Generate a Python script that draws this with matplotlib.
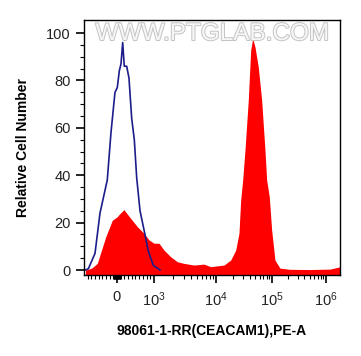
import numpy as np
import matplotlib
matplotlib.use('Agg')
import matplotlib.pyplot as plt
import matplotlib.patheffects as pe

plt.rcParams['font.family'] = ['Liberation Sans', 'DejaVu Sans']
plt.rcParams['mathtext.fontset'] = 'custom'
plt.rcParams['mathtext.rm'] = 'Liberation Sans'

# isotype control (blue outline)
blue_x = [-873, -783, -600, -464, -265, -164, -55, 8, 62, 108, 154, 197, 262,
          324, 397, 468, 532, 622, 730, 846, 981, 1250]
blue_y = [0, 0.5, 7, 24, 38, 58, 75, 77, 84, 87, 96, 86, 86,
          81, 64, 55, 39, 25, 17, 8, 2, 0]

# CEACAM1 stained sample (red filled)
red_x = [-860, -690, -537, -308, -128, 8, 60, 189, 260, 370, 549, 730, 865,
         1000, 1205, 1450, 1858, 2376, 3048, 4418, 6397, 8220, 11000, 13900,
         18320, 22500, 25760, 27620, 29990, 32960, 37760, 41690, 45200, 49690,
         56890, 65460, 74990, 80350, 89540, 98640, 113600, 140600, 215300,
         505600, 1200000, 1700000, 1820000]
red_y = [0, 0.8, 2.8, 14, 21, 22.5, 23.5, 25.5, 24, 21.8, 18.3, 15.5, 12.7,
         11.3, 11.3, 8.4, 5.6, 3.5, 2.8, 2.1, 2.5, 1.4, 1.8, 2.1,
         4.2, 8.4, 15.5, 29.5, 38, 50.6, 71.7, 92.8, 97.8, 94.2,
         85.8, 71.7, 50.6, 38, 31, 17, 4.2, 0.8, 0.3,
         0.2, 0.4, 1.2, 1.5]

major_ticks = [0, 1e3, 1e4, 1e5, 1e6]
major_labels = ['0', r'$\mathregular{10^{3}}$', r'$\mathregular{10^{4}}$',
                r'$\mathregular{10^{5}}$', r'$\mathregular{10^{6}}$']

# biexponential-like axis: linear below 1000, log above
U = np.array([-5, -0.9, 0, 1, 2, 3, 4, 8])
P = np.array([-66.3, 84, 117, 154, 216, 272, 326, 542])


def fwd(x):
    x = np.asarray(x, dtype=float)
    u = np.where(x < 1000, x / 1000, 1 + np.log10(np.maximum(x, 1000) / 1000))
    return np.interp(u, U, P)


def inv(p):
    u = np.interp(np.asarray(p, dtype=float), P, U)
    return np.where(u < 1, u * 1000, 10 ** (np.minimum(u, 9) + 2))


fig = plt.figure(figsize=(3.61, 3.56), dpi=100)
ax = fig.add_axes([0.2327, 0.2275, 0.7091, 0.7163])
ax.set_xscale('function', functions=(fwd, inv))

y_bottom = -2.1
ax.fill_between(red_x, red_y, y_bottom, color='#ff0000', linewidth=0)
ax.plot(blue_x, blue_y, color='#1c1c8a', linewidth=1.2)

ax.set_xlim(-900, 1.82e6)
ax.set_ylim(y_bottom, 105.5)

minor = list(range(-800, 0, 100)) + list(range(-90, 0, 10)) + list(range(10, 100, 10)) \
    + list(range(100, 1000, 100))
for d in [1e3, 1e4, 1e5]:
    minor += [k * d for k in range(2, 10)]
ax.set_xticks(major_ticks)
ax.set_xticklabels(major_labels)
ax.set_xticks(minor, minor=True)
ax.set_yticks([0, 20, 40, 60, 80, 100])
ax.set_yticks(np.arange(0, 105, 5), minor=True)

ax.tick_params(which='major', length=6, width=1.2, labelsize=10.5, color='black',
               labelcolor='#222222')
ax.tick_params(which='minor', length=3, width=0.8)
ax.tick_params(axis='x', which='major', pad=5)

for s in ax.spines.values():
    s.set_linewidth(1.0)

ax.set_ylabel('Relative Cell Number', fontsize=10, fontweight='bold', labelpad=12)
ax.set_xlabel('98061-1-RR(CEACAM1),PE-A', fontsize=10, fontweight='bold', labelpad=11)

ax.text(0.5, 0.945, 'WWW.PTGLAB.COM', transform=ax.transAxes, ha='center', va='center',
        fontsize=17.5, color='#f6f6f6',
        path_effects=[pe.withStroke(linewidth=1.4, foreground='#c4c4c4')])

fig.savefig('out.png', dpi=100)
